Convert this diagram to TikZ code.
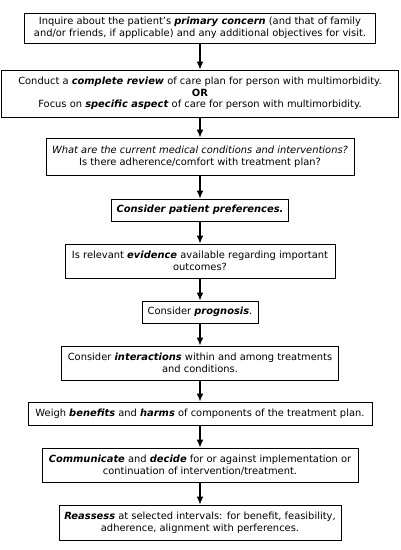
\documentclass[tikz,border=0pt]{standalone}
\usepackage{fontspec}
\setmainfont{DejaVu Sans}
\usetikzlibrary{arrows.meta,positioning}

\newcommand{\keyword}[1]{\textbf{\textit{#1}}}

\tikzset{
  stepbox/.style={draw, line width=1pt, align=center, inner sep=2pt,
    font=\fontsize{9.9}{11.7}\selectfont},
  flow/.style={line width=1.2pt, -{Latex[length=8pt,width=7pt]}},
}

\begin{document}
\begin{tikzpicture}[x=1pt, y=-1pt]
\useasboundingbox (0,0) rectangle (401,550);

\node[stepbox, minimum width=351pt, minimum height=30pt] (concern) at (200,28)
  {Inquire about the patient's \keyword{primary concern} (and that of family\\and/or friends, if applicable) and any additional objectives for visit.};
\node[stepbox, minimum width=397pt, minimum height=47pt] (review) at (200,93.5)
  {Conduct a \keyword{complete review} of care plan for person with multimorbidity.\\\textbf{OR}\\Focus on \keyword{specific aspect} of care for person with multimorbidity.};
\node[stepbox, minimum width=308pt, minimum height=37pt] (current) at (200,156.5)
  {\textit{What are the current medical conditions and interventions?}\\Is there adherence/comfort with treatment plan?};
\node[stepbox, minimum width=177pt, minimum height=22pt] (prefs) at (200,210)
  {\keyword{Consider patient preferences.}};
\node[stepbox, minimum width=270pt, minimum height=34pt] (evidence) at (200,261)
  {Is relevant \keyword{evidence} available regarding important\\outcomes?};
\node[stepbox, minimum width=116pt, minimum height=22pt] (prognosis) at (200,312)
  {Consider \keyword{prognosis}.};
\node[stepbox, minimum width=277pt, minimum height=34pt] (interact) at (200,363)
  {Consider \keyword{interactions} within and among treatments\\and conditions.};
\node[stepbox, minimum width=344pt, minimum height=23pt] (weigh) at (200,413.5)
  {Weigh \keyword{benefits} and \keyword{harms} of components of the treatment plan.};
\node[stepbox, minimum width=316pt, minimum height=34pt] (decide) at (200,465)
  {\keyword{Communicate} and \keyword{decide} for or against implementation or\\continuation of intervention/treatment.};
\node[stepbox, minimum width=282pt, minimum height=35pt] (reassess) at (200,522.5)
  {\keyword{Reassess} at selected intervals: for benefit, feasibility,\\adherence, alignment with perferences.};

% arrows down the chain
\foreach \a/\b in {concern/review, review/current, current/prefs, prefs/evidence,
  evidence/prognosis, prognosis/interact, interact/weigh, weigh/decide, decide/reassess}
  \draw[flow] (\a) -- (\b);
\end{tikzpicture}
\end{document}
